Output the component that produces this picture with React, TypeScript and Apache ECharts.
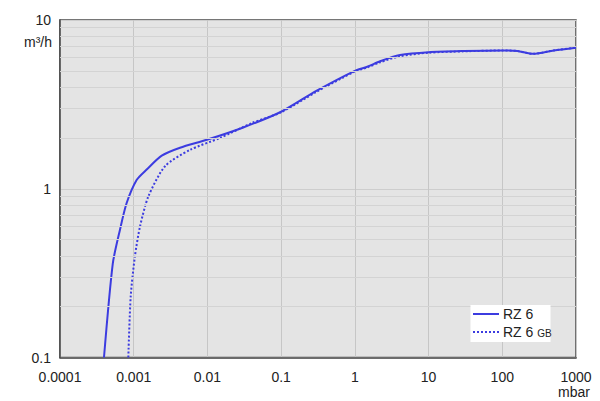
import React, { useEffect, useRef } from "react";
import * as echarts from "echarts";

const rzX = [0.000395, 0.00052, 0.00065, 0.0008, 0.0011, 0.0015, 0.0024, 0.00425, 0.0098, 0.03, 0.1, 0.3, 1, 1.5, 2.2, 4.1, 10, 30, 100, 160, 264, 500, 1000];
const rzY = [0.1, 0.36, 0.57, 0.82, 1.13, 1.3, 1.57, 1.75, 1.95, 2.3, 2.86, 3.8, 5.0, 5.3, 5.7, 6.2, 6.45, 6.55, 6.6, 6.55, 6.3, 6.6, 6.85];
const gbX = [0.000845, 0.00091, 0.00104, 0.00122, 0.00158, 0.00266, 0.0058, 0.0148, 0.04, 0.1, 0.3, 1, 1.5, 2.2, 4.1, 10, 30, 100, 160, 264, 500, 1000];
const gbY = [0.1, 0.23, 0.4, 0.6, 0.9, 1.36, 1.7, 2.0, 2.45, 2.84, 3.75, 4.95, 5.25, 5.62, 6.1, 6.4, 6.52, 6.6, 6.55, 6.3, 6.6, 6.85];
const minorY = [0.2, 0.3, 0.4, 0.5, 0.6, 0.7, 0.8, 0.9, 2, 3, 4, 5, 6, 7, 8, 9];
const xTicks = ["0.0001", "0.001", "0.01", "0.1", "1", "10", "100", "1000"];
const yTicks = ["0.1", "1", "10"];
const seriesNames = ["RZ 6", "RZ 6 GB"];

const BLUE = "#3c3ce0";
const FONT = "Liberation Sans";
const TXT = "#222";

export default function App() {
  const ref = useRef<HTMLDivElement>(null);
  useEffect(() => {
    const chart = echarts.init(ref.current!, null, { renderer: "svg" });
    chart.setOption({
      animation: false,
      backgroundColor: "#ffffff",
      grid: {
        left: 60,
        right: 24,
        top: 20,
        bottom: 43.5,
        show: true,
        backgroundColor: "#e4e4e4",
        borderColor: "#4a4a4a",
        borderWidth: 1.5,
      },
      xAxis: {
        type: "log",
        logBase: 10,
        min: 0.0001,
        max: 1000,
        axisLine: { show: true, lineStyle: { color: "#4a4a4a", width: 1.5 } },
        axisTick: { show: false },
        splitLine: { show: true, lineStyle: { color: "#c6c6c6", width: 1 } },
        axisLabel: {
          margin: 12,
          color: TXT,
          fontFamily: FONT,
          fontSize: 14,
          formatter: (v: number) => xTicks[Math.round(Math.log10(v)) + 4] ?? "",
        },
      },
      yAxis: {
        type: "log",
        logBase: 10,
        min: 0.1,
        max: 10,
        axisLine: { show: true, lineStyle: { color: "#4a4a4a", width: 1.5 } },
        axisTick: { show: false },
        splitLine: { show: true, lineStyle: { color: "#cdcdcd", width: 1 } },
        axisLabel: {
          margin: 9,
          color: TXT,
          fontFamily: FONT,
          fontSize: 14,
          formatter: (v: number) => yTicks[Math.round(Math.log10(v)) + 1] ?? "",
        },
      },
      graphic: [
        { type: "text", right: 548, top: 35, style: { text: "m³/h", fontFamily: FONT, fontSize: 14, fill: TXT, textAlign: "right" } },
        { type: "text", right: 10, top: 385, style: { text: "mbar", fontFamily: FONT, fontSize: 14, fill: TXT } },
        { type: "rect", shape: { x: 470.5, y: 305, width: 80, height: 37 }, style: { fill: "#ffffff" }, z: 10 },
        { type: "line", shape: { x1: 473, y1: 314, x2: 499, y2: 314 }, style: { stroke: BLUE, lineWidth: 2 }, z: 11 },
        { type: "line", shape: { x1: 473, y1: 332, x2: 499, y2: 332 }, style: { stroke: BLUE, lineWidth: 2, lineDash: [2, 2] }, z: 11 },
        { type: "text", x: 503, y: 314, style: { text: seriesNames[0], fontFamily: FONT, fontSize: 14, fill: TXT, textVerticalAlign: "middle" }, z: 11 },
        {
          type: "text",
          x: 503,
          y: 332,
          style: {
            text: "RZ 6 {s|GB}",
            fontFamily: FONT,
            fontSize: 14,
            fill: TXT,
            textVerticalAlign: "middle",
            rich: { s: { fontSize: 10, fontFamily: FONT, fill: TXT, padding: [3, 0, 0, 0] } },
          },
          z: 11,
        },
      ],
      series: [
        {
          name: "grid-minor",
          type: "line",
          data: [],
          silent: true,
          markLine: {
            silent: true,
            symbol: "none",
            label: { show: false },
            lineStyle: { color: "#d3d3d3", width: 1, type: "solid" },
            data: minorY.map((v) => ({ yAxis: v })),
          },
        },
        {
          name: seriesNames[1],
          type: "line",
          data: gbX.map((x, i) => [x, gbY[i]]),
          showSymbol: false,
          symbol: "none",
          smooth: 0.25,
          lineStyle: { color: BLUE, width: 2, type: [2, 2] },
          itemStyle: { color: BLUE },
        },
        {
          name: seriesNames[0],
          type: "line",
          data: rzX.map((x, i) => [x, rzY[i]]),
          showSymbol: false,
          symbol: "none",
          smooth: 0.25,
          lineStyle: { color: BLUE, width: 2 },
          itemStyle: { color: BLUE },
        },
      ],
    });
    return () => chart.dispose();
  }, []);
  return <div ref={ref} style={{ position: "fixed", left: 0, top: 0, width: 600, height: 401 }} />;
}
